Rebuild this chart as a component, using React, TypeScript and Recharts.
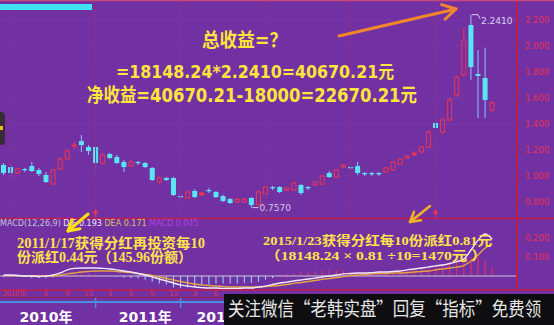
import React from 'react';
import {
  ComposedChart,
  Bar,
  Line,
  XAxis,
  YAxis,
  CartesianGrid,
  ReferenceLine,
  ReferenceDot,
  Cell,
} from 'recharts';

// Monthly slots, Dec 2009 .. Dec 2015 (the last three are empty)
const months: string[] = (() => {
  const out: string[] = [];
  let y = 2009;
  let m = 12;
  while (out.length < 73) {
    out.push(`${y}-${String(m).padStart(2, '0')}`);
    m += 1;
    if (m > 12) {
      m = 1;
      y += 1;
    }
  }
  return out;
})();

const opens = [
  1.085, 1.069, 1.023, 1.054, 1.077, 1.046, 1.008, 0.938, 1.054, 1.131,
  1.231, 1.269, 1.223, 1.223, 1.1, 1.169, 1.146, 1.108, 1.077, 1.108,
  1.1, 1.062, 0.954, 0.985, 0.985, 0.846, 0.831, 0.885, 0.854, 0.892,
  0.877, 0.846, 0.823, 0.8, 0.8, 0.831, 0.777, 0.862, 0.915, 0.915,
  0.892, 0.892, 0.931, 0.915, 0.931, 0.938, 1.023, 0.992, 1.069, 1.069,
  1.077, 1.023, 1.023, 1.023, 1.031, 1.046, 1.092, 1.138, 1.162, 1.185,
  1.223, 1.408, 1.338, 1.431, 1.623, 1.777, 2.162, 1.785, 1.754, 1.508,
];
const closes = [
  1.023, 1.023, 1.054, 1.05, 1.038, 1.015, 0.954, 1.046, 1.131, 1.192,
  1.238, 1.238, 1.192, 1.1, 1.162, 1.138, 1.1, 1.069, 1.108, 1.1,
  1.069, 0.969, 0.985, 0.969, 0.854, 0.838, 0.877, 0.838, 0.869, 0.885,
  0.838, 0.808, 0.792, 0.823, 0.823, 0.777, 0.877, 0.915, 0.908, 0.877,
  0.908, 0.946, 0.869, 0.908, 0.954, 1.0, 0.992, 1.046, 1.085, 1.062,
  1.023, 1.015, 1.015, 1.015, 1.062, 1.108, 1.131, 1.154, 1.177, 1.223,
  1.338, 1.369, 1.431, 1.585, 1.761, 2.046, 1.838, 1.77, 1.585, 1.562,
];
const highs = [
  1.1, 1.085, 1.062, 1.062, 1.108, 1.062, 1.031, 1.054, 1.146, 1.208,
  1.262, 1.315, 1.238, 1.231, 1.177, 1.177, 1.162, 1.123, 1.123, 1.115,
  1.108, 1.069, 1.0, 0.992, 0.992, 0.869, 0.892, 0.9, 0.877, 0.908,
  0.885, 0.854, 0.831, 0.831, 0.831, 0.838, 0.892, 0.923, 0.923, 0.923,
  0.915, 0.954, 0.938, 0.923, 0.962, 1.008, 1.038, 1.054, 1.092, 1.077,
  1.108, 1.031, 1.031, 1.031, 1.069, 1.115, 1.138, 1.162, 1.185, 1.231,
  1.354, 1.454, 1.446, 1.6, 1.777, 2.138, 2.241, 1.969, 1.985, 1.577,
];
const lows = [
  1.008, 0.992, 1.015, 1.031, 1.031, 1.0, 0.946, 0.931, 1.046, 1.123,
  1.208, 1.185, 1.162, 1.046, 1.085, 1.131, 1.092, 1.031, 1.069, 1.085,
  1.062, 0.962, 0.938, 0.962, 0.846, 0.815, 0.823, 0.831, 0.846, 0.869,
  0.831, 0.8, 0.785, 0.792, 0.792, 0.757, 0.769, 0.854, 0.892, 0.869,
  0.885, 0.885, 0.854, 0.892, 0.923, 0.931, 0.985, 0.985, 1.062, 1.046,
  1.008, 1.0, 1.0, 1.0, 1.023, 1.038, 1.085, 1.131, 1.154, 1.177,
  1.215, 1.362, 1.323, 1.415, 1.608, 1.761, 1.738, 1.446, 1.446, 1.492,
];

const difs = [
  0.005, 0.005, 0.003, 0, 0, -0.003, 0, 0.005, 0.016, 0.032,
  0.04, 0.042, 0.042, 0.042, 0.04, 0.037, 0.032, 0.026, 0.021, 0.013,
  0.005, -0.005, -0.016, -0.026, -0.037, -0.047, -0.053, -0.058, -0.061, -0.063,
  -0.063, -0.066, -0.066, -0.066, -0.063, -0.063, -0.058, -0.053, -0.045, -0.037,
  -0.032, -0.026, -0.021, -0.016, -0.011, -0.005, 0, 0.005, 0.011, 0.013,
  0.016, 0.016, 0.018, 0.021, 0.021, 0.024, 0.026, 0.032, 0.037, 0.042,
  0.047, 0.053, 0.058, 0.066, 0.076, 0.089, 0.137, 0.189, 0.221, 0.193,
];
const deas = [
  0.002, 0.002, 0.002, 0.002, 0.001, 0.001, 0, 0.001, 0.005, 0.011,
  0.016, 0.021, 0.024, 0.026, 0.026, 0.026, 0.024, 0.021, 0.018, 0.013,
  0.008, 0.003, -0.005, -0.013, -0.021, -0.029, -0.037, -0.042, -0.047, -0.05,
  -0.053, -0.055, -0.058, -0.058, -0.058, -0.058, -0.058, -0.055, -0.053, -0.05,
  -0.045, -0.039, -0.034, -0.029, -0.024, -0.018, -0.013, -0.008, -0.003, 0.003,
  0.005, 0.008, 0.011, 0.013, 0.013, 0.016, 0.016, 0.018, 0.021, 0.024,
  0.026, 0.032, 0.037, 0.042, 0.047, 0.055, 0.079, 0.111, 0.147, 0.171,
];
const macdBars = [
  -0.005, -0.005, -0.005, -0.005, -0.01, -0.01, -0.01, -0.008, 0.008, 0.01,
  0.012, 0.012, 0.01, 0.008, 0.005, 0.004, -0.004, -0.008, -0.01, -0.012,
  -0.02, -0.03, -0.04, -0.045, -0.06, -0.065, -0.06, -0.055, -0.05, -0.045,
  -0.04, -0.04, -0.04, -0.04, -0.035, -0.035, -0.03, -0.02, -0.01, 0.005,
  0.01, 0.015, 0.02, 0.02, 0.025, 0.03, 0.03, 0.03, 0.025, 0.02,
  0.02, 0.015, 0.015, 0.015, 0.02, 0.025, 0.03, 0.035, 0.04, 0.045,
  0.05, 0.05, 0.06, 0.07, 0.08, 0.09, 0.1, 0.1, 0.08, 0.045,
];

const priceTicks = [0.8, 1.0, 1.2, 1.4, 1.6, 1.8, 2.0, 2.2];
const macdTicks = [0.1, 0.2];
const yearStarts = ['2010-01', '2011-01', '2012-01', '2013-01', '2014-01', '2015-01'];
const dividendMonths = ['2011-01', '2015-01'];
// the date strip is only visible up to mid 2012; the caption bar covers the rest
const quarterMonths = ['2010-03', '2010-06', '2010-09', '2010-12', '2011-03', '2011-06', '2011-09', '2011-12', '2012-03', '2012-06'];
const yearLabelMonths = ['2010-06', '2011-08', '2012-07'];
const yearAxisTicks = ['2011-01', '2012-01', ...yearLabelMonths];

const rows = months.map((month, i) => ({
  month,
  open: opens[i],
  high: highs[i],
  low: lows[i],
  close: closes[i],
  dif: difs[i],
  dea: deas[i],
  macd: macdBars[i],
}));

const hiIdx = highs.indexOf(Math.max(...highs));
const loIdx = lows.indexOf(Math.min(...lows));
const last = difs.length - 1;

const PURPLE = '#7131a3';
const RED = '#ef3550';
const AXIS_RED = '#c01e44';
const CYAN = '#58e6f4';
const WICK_BLUE = '#86c4ff';
const YELLOW = '#ffe43c';

function Candle(props: any) {
  const { x, y, width, height, payload } = props;
  if (!payload || payload.open == null) return <g />;
  const top = Math.min(y, y + height);
  const bottom = Math.max(y, y + height);
  const span = payload.high - payload.low;
  const k = span > 0 ? (bottom - top) / span : 0;
  const toY = (v: number) => top + (payload.high - v) * k;
  const cx = x + width / 2;
  const yo = toY(payload.open);
  const yc = toY(payload.close);
  const bt = Math.min(yo, yc);
  const bb = Math.max(yo, yc);
  const up = payload.close >= payload.open;
  if (up) {
    const flat = bb - bt < 2;
    return (
      <g>
        <line x1={cx} x2={cx} y1={top} y2={bt} stroke={RED} strokeWidth={1} />
        <line x1={cx} x2={cx} y1={bb} y2={bottom} stroke={RED} strokeWidth={1} />
        <rect
          x={x + 0.5}
          y={bt}
          width={width - 1}
          height={Math.max(bb - bt, 1)}
          fill={flat ? RED : 'none'}
          stroke={RED}
          strokeWidth={1}
        />
      </g>
    );
  }
  return (
    <g>
      <line x1={cx} x2={cx} y1={top} y2={bottom} stroke={WICK_BLUE} strokeWidth={1} />
      <rect x={x} y={bt} width={width} height={Math.max(bb - bt, 1.2)} fill={CYAN} />
    </g>
  );
}

function HighLabel(props: any) {
  const { cx, cy } = props;
  return (
    <g>
      <polyline
        points={`${cx + 1},${cy} ${cx + 7},${cy} ${cx + 9},${cy + 4}`}
        fill="none"
        stroke="#d8d4ee"
        strokeWidth={1}
      />
      <text x={cx + 10} y={cy + 9} fontSize={9} fill="#d8d4ee" fontFamily="DejaVu Sans">
        {highs[hiIdx].toFixed(4)}
      </text>
    </g>
  );
}

function LowLabel(props: any) {
  const { cx, cy } = props;
  return (
    <g>
      <line x1={cx + 1} x2={cx + 7} y1={cy} y2={cy} stroke="#cfc8e6" strokeWidth={1} />
      <text x={cx + 8} y={cy + 3} fontSize={9} fill="#cfc8e6" fontFamily="DejaVu Sans">
        {lows[loIdx].toFixed(4)}
      </text>
    </g>
  );
}

function DividendMark(props: any) {
  const { cx, cy } = props;
  return (
    <g fill={RED} stroke={RED}>
      <polygon points={`${cx},${cy - 4} ${cx - 2.5},${cy} ${cx + 2.5},${cy}`} strokeWidth={0.5} />
      <line x1={cx} x2={cx} y1={cy} y2={cy + 4} strokeWidth={1.2} />
    </g>
  );
}

function MonthTick(props: any) {
  const { x, y, payload } = props;
  const v: string = payload.value;
  if (v === '2010-03') {
    return (
      <text x={x + 2} y={y + 6} fontSize={7.5} fill="#e0304c" textAnchor="end" fontFamily="Noto Sans CJK SC">
        2010年
      </text>
    );
  }
  return (
    <text x={x} y={y + 6} fontSize={7.5} fill="#e0304c" textAnchor="middle" fontFamily="DejaVu Sans">
      {Number(v.slice(5))}
    </text>
  );
}

function YearTick(props: any) {
  const { x, y, payload } = props;
  const v: string = payload.value;
  if (v.endsWith('-01')) {
    return <line x1={x} x2={x} y1={y - 5} y2={y + 6} stroke="#4a8ee0" strokeWidth={1.5} />;
  }
  return (
    <text
      x={x}
      y={y + 20}
      fontSize={14}
      fontWeight="bold"
      fill="#ffffff"
      textAnchor="middle"
      fontFamily="DejaVu Sans, Noto Sans CJK SC"
    >
      {`${v.slice(0, 4)}年`}
    </text>
  );
}

function Arrow({ x1, y1, x2, y2, color, w = 3, head = 13 }: any) {
  const a = Math.atan2(y2 - y1, x2 - x1);
  const s = Math.PI / 6;
  const p1 = `${x2 - head * Math.cos(a - s)},${y2 - head * Math.sin(a - s)}`;
  const p2 = `${x2 - head * Math.cos(a + s)},${y2 - head * Math.sin(a + s)}`;
  return (
    <g stroke={color} strokeWidth={w} strokeLinecap="round" strokeLinejoin="round" fill="none">
      <line x1={x1} y1={y1} x2={x2} y2={y2} />
      <polyline points={`${p1} ${x2},${y2} ${p2}`} />
    </g>
  );
}

const headFont = "'DejaVu Sans', 'Noto Sans CJK SC', sans-serif";
const noteFont = "'Liberation Serif', 'Noto Sans CJK SC', serif";

export default function App() {
  return (
    <div
      style={{
        position: 'absolute',
        left: 0,
        top: 0,
        width: 554,
        height: 325,
        background: PURPLE,
        overflow: 'hidden',
      }}
    >
      {/* price panel */}
      <div style={{ position: 'absolute', left: 0, top: 0 }}>
        <ComposedChart width={554} height={218} data={rows} margin={{ top: 0, right: 0, bottom: 0, left: 0 }}>
          <CartesianGrid vertical={false} stroke="#7a38a8" strokeWidth={1} />
          <XAxis dataKey="month" hide />
          <YAxis
            orientation="right"
            width={37}
            domain={[0.677, 2.354]}
            allowDataOverflow
            ticks={priceTicks}
            tickFormatter={(v: number) => v.toFixed(3)}
            tick={{ fill: '#e63252', fontSize: 8.5, fontFamily: 'DejaVu Sans' }}
            tickLine={false}
            tickSize={6}
            tickMargin={2}
            axisLine={{ stroke: AXIS_RED, strokeWidth: 2 }}
          />
          {yearStarts.map((m) => (
            <ReferenceLine key={m} x={m} stroke="#88318f" strokeWidth={1} />
          ))}
          <Bar
            dataKey={(d: any) => (d.high == null ? null : [d.low, d.high])}
            barSize={5}
            shape={Candle}
            isAnimationActive={false}
          />
          <ReferenceDot x={months[hiIdx]} y={highs[hiIdx]} shape={HighLabel} ifOverflow="visible" />
          <ReferenceDot x={months[loIdx]} y={lows[loIdx]} shape={LowLabel} ifOverflow="visible" />
          {dividendMonths.map((m) => (
            <ReferenceDot key={m} x={m} y={0.712} shape={DividendMark} ifOverflow="visible" />
          ))}
        </ComposedChart>
      </div>

      {/* MACD panel with the date axes */}
      <div style={{ position: 'absolute', left: 0, top: 218 }}>
        <ComposedChart width={554} height={107} data={rows} margin={{ top: 0, right: 0, bottom: 0, left: 0 }}>
          <XAxis
            dataKey="month"
            height={12}
            ticks={quarterMonths}
            interval={0}
            tick={MonthTick}
            tickLine={false}
            tickSize={0}
            tickMargin={0}
            axisLine={{ stroke: AXIS_RED, strokeWidth: 1.5 }}
          />
          <XAxis
            xAxisId={1}
            dataKey="month"
            height={23}
            ticks={yearAxisTicks}
            interval={0}
            tick={YearTick}
            tickLine={false}
            tickSize={0}
            tickMargin={0}
            axisLine={{ stroke: '#4a8ee0', strokeWidth: 2 }}
          />
          <YAxis
            orientation="right"
            width={37}
            domain={[-0.0737, 0.3053]}
            allowDataOverflow
            ticks={macdTicks}
            tickFormatter={(v: number) => v.toFixed(3)}
            tick={{ fill: '#e63252', fontSize: 8.5, fontFamily: 'DejaVu Sans' }}
            tickLine={false}
            tickSize={6}
            tickMargin={2}
            axisLine={{ stroke: AXIS_RED, strokeWidth: 2 }}
          />
          <ReferenceLine y={0} stroke="#cfc6dc" strokeWidth={1} />
          <Bar dataKey="macd" barSize={1} isAnimationActive={false}>
            {rows.map((r, i) => (
              <Cell key={i} fill={(r.macd ?? 0) >= 0 ? RED : '#8fe4ff'} />
            ))}
          </Bar>
          <Line
            dataKey="dea"
            type="monotone"
            stroke="#e2a444"
            strokeWidth={1.4}
            dot={false}
            isAnimationActive={false}
          />
          <Line
            dataKey="dif"
            type="monotone"
            stroke="#f2e8ff"
            strokeWidth={1.4}
            dot={false}
            isAnimationActive={false}
          />
        </ComposedChart>
      </div>

      {/* frame, captions and notes */}
      <svg
        width={554}
        height={325}
        style={{ position: 'absolute', left: 0, top: 0, pointerEvents: 'none' }}
      >
        <line x1={0} x2={554} y1={0.5} y2={0.5} stroke="#c8487a" strokeWidth={1.5} />
        <rect x={0} y={4} width={92} height={6} fill="#3fe4f0" />
        <rect x={-6} y={112} width={11} height={33} rx={4} fill="#3a2c34" />
        <rect x={0} y={126} width={3} height={4} fill="#e8c030" />

        <line x1={0} x2={554} y1={218.5} y2={218.5} stroke={AXIS_RED} strokeWidth={1.5} />
        <line x1={517} x2={554} y1={290} y2={290} stroke={AXIS_RED} strokeWidth={1.5} />
        <line x1={0} x2={554} y1={297.5} y2={297.5} stroke="#9a2040" strokeWidth={1} />

        <text x={0} y={226} fontSize={8} fontFamily="DejaVu Sans">
          <tspan fill="#c4c0dc">MACD(12,26,9) </tspan>
          <tspan fill="#ece8ff">{`DIF ${difs[last].toFixed(3)} `}</tspan>
          <tspan fill="#dcc06a">{`DEA ${deas[last].toFixed(3)} `}</tspan>
          <tspan fill="#b040e0">{`MACD ${macdBars[last].toFixed(3)}`}</tspan>
        </text>

        <text x={202} y={47} fontSize={19} fontWeight="bold" fill={YELLOW} fontFamily={headFont} textLength={85} lengthAdjust="spacingAndGlyphs">
          总收益=？
        </text>
        <text x={116} y={77.5} fontSize={18} fontWeight="bold" fill={YELLOW} fontFamily={headFont} textLength={278} lengthAdjust="spacingAndGlyphs">
          =18148.24*2.2410=40670.21元
        </text>
        <text x={87} y={102} fontSize={19} fontWeight="bold" fill={YELLOW} fontFamily={headFont} textLength={330} lengthAdjust="spacingAndGlyphs">
          净收益=40670.21-18000=22670.21元
        </text>

        <text x={17} y={248} fontSize={14} fontWeight="bold" fill="#ffe24a" fontFamily={noteFont} textLength={188} lengthAdjust="spacingAndGlyphs">
          2011/1/17获得分红再投资每10
        </text>
        <text x={17} y={262} fontSize={14} fontWeight="bold" fill="#ffe24a" fontFamily={noteFont} textLength={175} lengthAdjust="spacingAndGlyphs">
          份派红0.44元（145.96份额）
        </text>
        <text x={263} y={245} fontSize={13} fontWeight="bold" fill="#ffe24a" fontFamily={noteFont} textLength={229} lengthAdjust="spacingAndGlyphs">
          2015/1/23获得分红每10份派红0.81元
        </text>
        <text x={265} y={259.5} fontSize={13} fontWeight="bold" fill="#ffe24a" fontFamily={noteFont} textLength={222} lengthAdjust="spacingAndGlyphs">
          （18148.24 × 0.81 ÷10=1470元 ）
        </text>

        <Arrow x1={339} y1={36} x2={456} y2={9} color="#f2862a" w={3} head={15} />
        <Arrow x1={88} y1={214} x2={68} y2={231} color="#ffe010" w={3} head={12} />
        <Arrow x1={430} y1={206} x2={410} y2={222} color="#f4b422" w={2.5} head={11} />

        <rect x={224} y={294} width={330} height={31} fill="#0e0e10" />
        <text
          transform="translate(228 316) scale(1 1.15)"
          x={0}
          y={0}
          fontSize={16.5}
          fill="#e6e6e6"
          fontFamily="'Noto Sans CJK SC'"
        >
          关注微信“老韩实盘”回复“指标”免费领
        </text>
      </svg>
    </div>
  );
}
